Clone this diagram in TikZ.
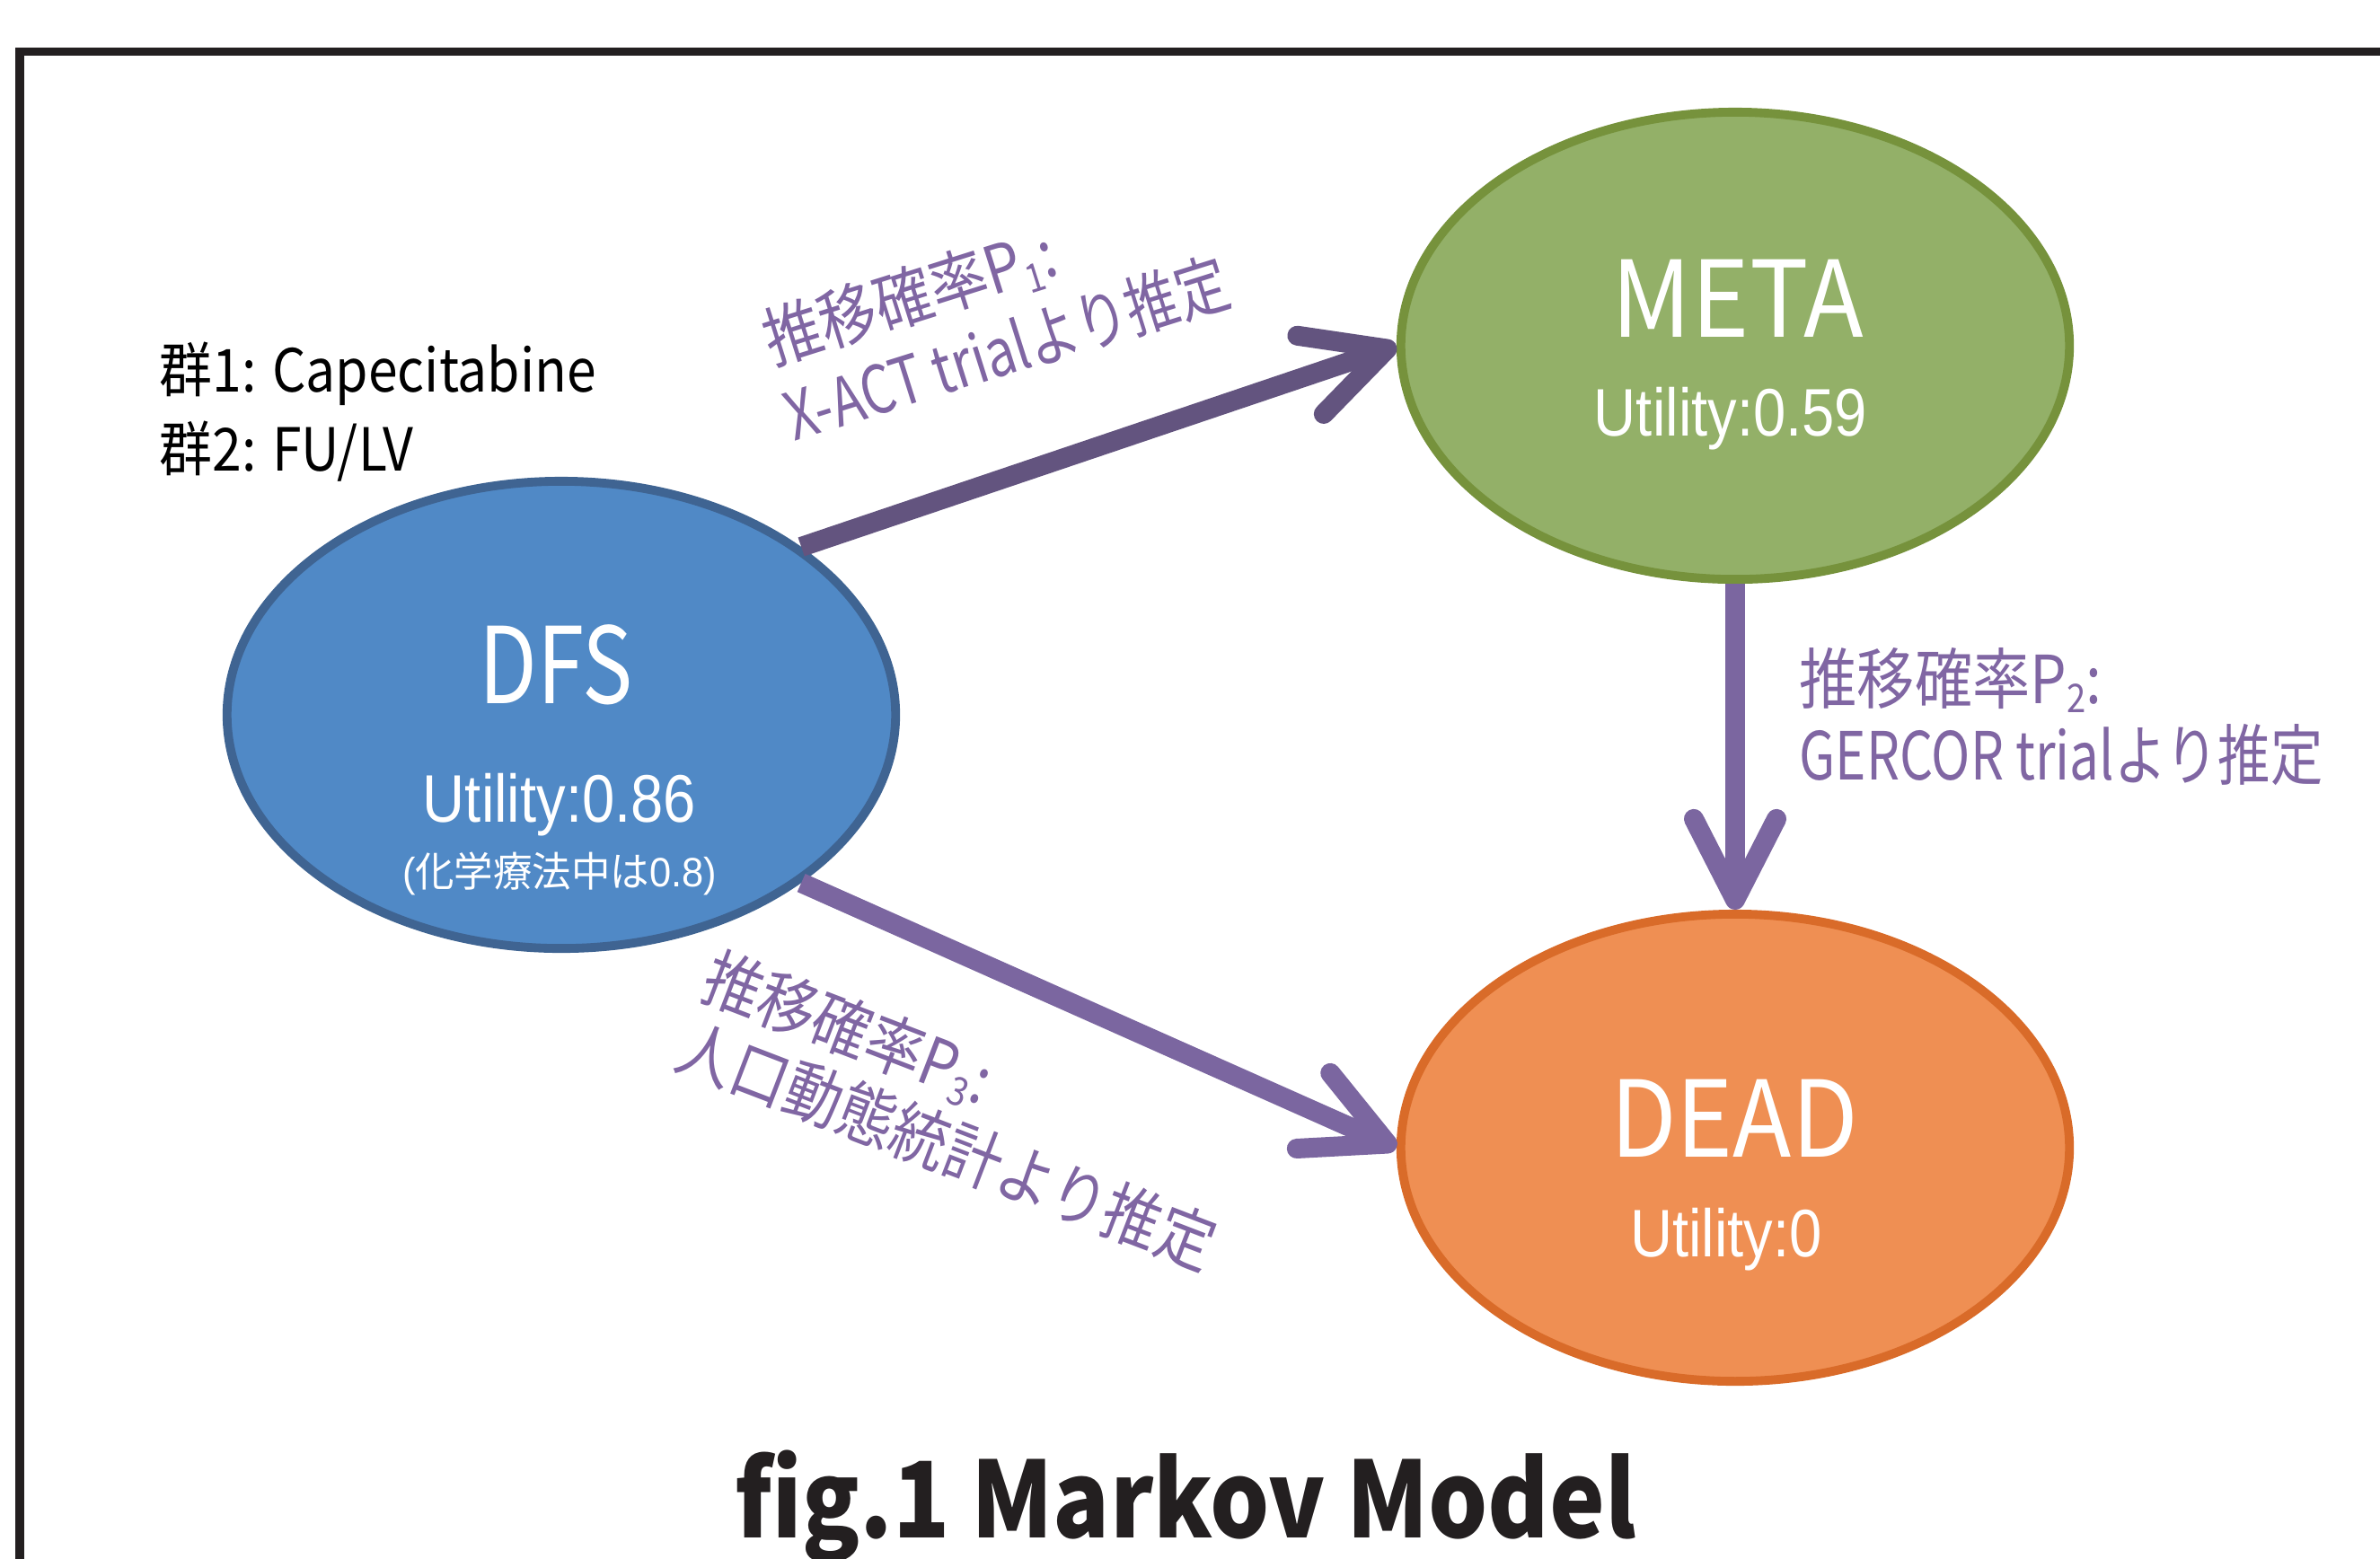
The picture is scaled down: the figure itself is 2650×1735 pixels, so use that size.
\documentclass[tikz,border=0pt]{standalone}
\usepackage{fontspec}
\setmainfont{Noto Sans CJK JP}
\newfontfamily\arialfont{Liberation Sans}
\usetikzlibrary{arrows.meta,shapes.geometric}

\definecolor{dfsfill}{HTML}{5089C6}
\definecolor{dfsline}{HTML}{3F6492}
\definecolor{metafill}{HTML}{93B068}
\definecolor{metaline}{HTML}{76923C}
\definecolor{deadfill}{HTML}{EF8F53}
\definecolor{deadline}{HTML}{D96B29}
\definecolor{arrowdark}{HTML}{63547F}
\definecolor{arrowpurple}{HTML}{7B66A0}
\definecolor{labelpurple}{HTML}{8066A3}
\definecolor{frameblack}{HTML}{231F20}

% horizontal squeeze of a piece of text
\newcommand\hsq[2]{\scalebox{#1}[1]{#2}}
% lowered, smaller digit for the transition probabilities
\newcommand\subdig[1]{\raisebox{-0.14em}{\fontsize{12.5}{12.5}\selectfont #1}}

\tikzset{
  state/.style={ellipse, minimum width=7.44cm, minimum height=5.2cm,
    inner sep=0pt, line width=2.8pt},
  statename/.style={inner sep=0pt, anchor=base, text=white,
    font=\fontsize{33.5}{38}\selectfont},
  utiltext/.style={inner sep=0pt, anchor=base, text=white,
    font=\arialfont\fontsize{21.3}{25}\selectfont},
  probtext/.style={inner sep=0pt, anchor=base west, text=labelpurple,
    font=\fontsize{21}{24}\selectfont},
  grouptext/.style={inner sep=0pt, anchor=base west, text=black,
    font=\fontsize{18.8}{22}\selectfont},
  flow/.style={line width=0.22cm, draw=arrowpurple,
    -{Straight Barb[length=0.9cm, width=0.92cm, round]}},
}

\begin{document}
\begin{tikzpicture}[x=0.01cm, y=-0.01cm]
\useasboundingbox (0,0) rectangle (2650,1735);

% page frame, running off the right and bottom edges
\begin{scope}
  \clip (0,0) rectangle (2650,1735);
  \draw[frameblack, line width=0.09cm] (22,57.5) rectangle (2720,1800);
\end{scope}

% states
\node[state, fill=dfsfill, draw=dfsline] (dfs) at (625,796) {};
\node[state, fill=metafill, draw=metaline] (meta) at (1932,385) {};
\node[state, fill=deadfill, draw=deadline] (dead) at (1932,1278) {};

% transitions
\draw[flow, draw=arrowdark] (dfs.35) -- (meta.west);
\draw[flow] (meta.south) -- (dead.north);
\draw[flow] (dfs.-35) -- (dead.west);

% state texts
\node[statename] (dfsname) at (619,783) {\hsq{0.8}{DFS}};
\node[utiltext] (dfsutil) at (623,915) {\hsq{0.87}{Utility:0.86}};
\node[inner sep=0pt, anchor=base, text=white, font=\fontsize{13}{15}\selectfont]
  (dfsnote) at (623,987) {\hsq{0.95}{{\arialfont (}化学療法中は{\arialfont 0.8)}}};
\node[statename] (metaname) at (1935,375) {\hsq{0.93}{META}};
\node[utiltext] (metautil) at (1927,485) {\hsq{0.87}{Utility:0.59}};
\node[statename] (deadname) at (1931,1288) {\hsq{0.91}{DEAD}};
\node[utiltext] (deadutil) at (1922,1399) {\hsq{0.87}{Utility:0}};

% treatment groups
\node[grouptext] (group1) at (177,436) {\hsq{0.89}{群1: Capecitabine}};
\node[grouptext] (group2) at (177,524) {\hsq{0.89}{群2: FU/LV}};

% transition probability notes
\node[probtext, rotate=17.5] (p1a) at (860,407) {\hsq{0.87}{推移確率P\subdig{1}:}};
\node[probtext, rotate=17.5] (p1b) at (884,492) {\hsq{0.79}{X-ACT trialより推定}};
\node[probtext] (p2a) at (2003,783) {\hsq{0.87}{推移確率P\subdig{2}:}};
\node[probtext] (p2b) at (2003,868) {\hsq{0.79}{GERCOR trialより推定}};
\node[probtext, rotate=-21] (p3a) at (777,1110) {\hsq{0.87}{推移確率P\subdig{3}:}};
\node[probtext, rotate=-21] (p3b) at (748,1188) {\hsq{0.86}{人口動態統計より推定}};

% caption
\node[inner sep=0pt, anchor=base west, text=frameblack,
  font=\bfseries\fontsize{33.4}{38}\selectfont] (caption) at (818,1712)
  {\hsq{0.887}{fig.1 Markov Model}};
\end{tikzpicture}
\end{document}
